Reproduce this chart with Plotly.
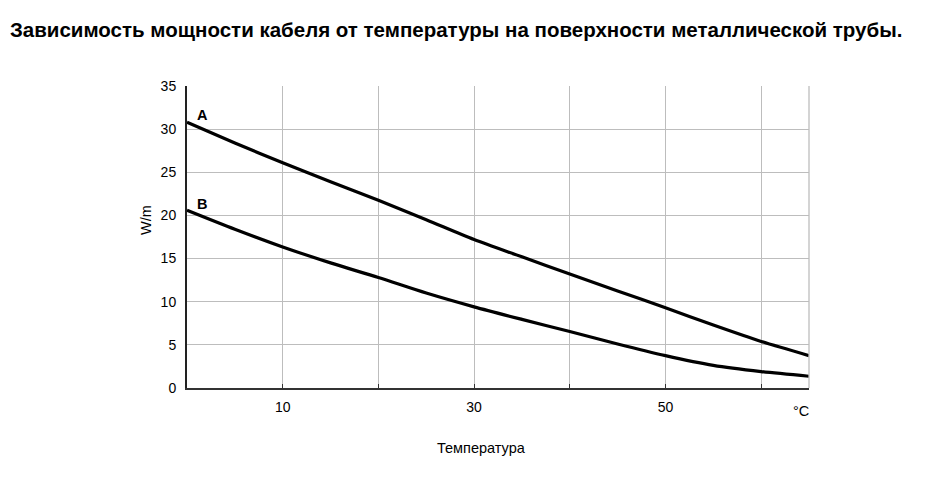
import plotly.graph_objects as go

# temperature on pipe surface, °C
temp = [0, 5, 10, 15, 20, 25, 30, 35, 40, 45, 50, 55, 60, 65]
# cable power, W/m
power_a = [30.8, 28.4, 26.1, 23.9, 21.75, 19.5, 17.2, 15.2, 13.2, 11.25, 9.3, 7.3, 5.4, 3.75]
power_b = [20.6, 18.4, 16.35, 14.5, 12.8, 11.0, 9.4, 7.95, 6.55, 5.1, 3.75, 2.62, 1.9, 1.36]

x_ticks = [10, 20, 30, 40, 50, 60, 65]
x_labels = ['10', '', '30', '', '50', '', '']

font = 'Liberation Sans, Arial, sans-serif'

fig = go.Figure()
fig.add_trace(go.Scatter(x=temp, y=power_a, mode='lines', name='A',
                         line=dict(color='black', width=3.2, shape='spline', smoothing=0.8)))
fig.add_trace(go.Scatter(x=temp, y=power_b, mode='lines', name='B',
                         line=dict(color='black', width=3.2, shape='spline', smoothing=0.8)))

# page body has an 8px margin, so the figure is 8px smaller and margins shifted
fig.update_layout(
    width=930, height=472,
    margin=dict(l=179, r=129, t=78, b=92),
    paper_bgcolor='white', plot_bgcolor='white',
    showlegend=False,
    font=dict(family=font, size=14, color='black'),
)
fig.update_xaxes(range=[0, 65], tickvals=x_ticks, ticktext=x_labels,
                 showgrid=True, gridcolor='#bdbdbd', gridwidth=1.3,
                 showline=True, linecolor='#333333', linewidth=2,
                 ticks='inside', ticklen=4, tickcolor='#333333',
                 ticklabelstandoff=5,
                 zeroline=False, tickfont=dict(size=14))
fig.update_yaxes(range=[0, 35], dtick=5,
                 showgrid=True, gridcolor='#bdbdbd', gridwidth=1.3,
                 showline=True, linecolor='#222222', linewidth=2,
                 ticklabelstandoff=6,
                 zeroline=False, ticks='', tickfont=dict(size=14))

# right border of the plot area
fig.add_shape(type='line', xref='paper', yref='paper', x0=1, x1=1, y0=0, y1=1,
              line=dict(color='#bdbdbd', width=1.3))

fig.add_annotation(text='<b>Зависимость мощности кабеля от температуры на поверхности металлической трубы.</b>',
                   xref='paper', yref='paper', x=-179 / 622, y=1 + 56 / 302,
                   xanchor='left', yanchor='middle', showarrow=False,
                   font=dict(size=20.5, color='black'))
fig.add_annotation(text='<b>A</b>', x=1.6, y=31.6, xanchor='center', yanchor='middle',
                   showarrow=False, font=dict(size=14.5))
fig.add_annotation(text='<b>B</b>', x=1.6, y=21.3, xanchor='center', yanchor='middle',
                   showarrow=False, font=dict(size=14.5))
fig.add_annotation(text='°C', xref='paper', yref='paper', x=(800.7 - 187) / 622, y=-23 / 302,
                   xanchor='center', yanchor='middle', showarrow=False, font=dict(size=14.5))
fig.add_annotation(text='Температура', xref='paper', yref='paper', x=(481.7 - 187) / 622, y=-60 / 302,
                   xanchor='center', yanchor='middle', showarrow=False, font=dict(size=14.5))
fig.add_annotation(text='W/m', xref='paper', yref='paper', x=-41 / 622, y=(388 - 220) / 302,
                   xanchor='center', yanchor='middle', textangle=-90, showarrow=False,
                   font=dict(size=14.5))

fig.write_html("out.html")
